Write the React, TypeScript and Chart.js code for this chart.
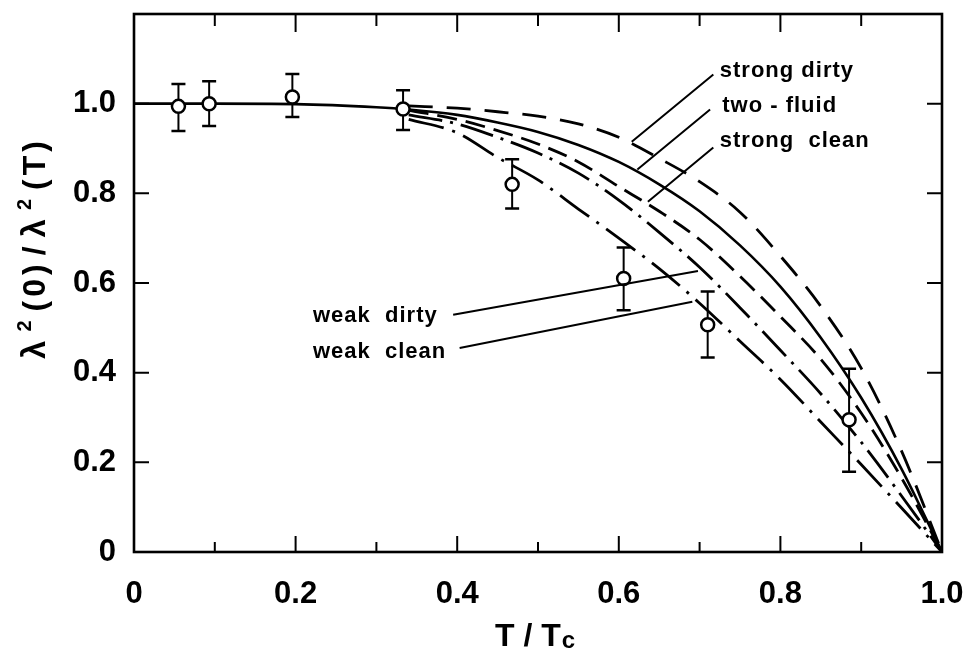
import React, { useEffect, useRef } from 'react';
import { Chart, registerables } from 'chart.js';

Chart.register(...registerables);

const FONT = '"Liberation Sans", Arial, "DejaVu Sans", sans-serif';

// axis ticks
const xTicks = [0, 0.2, 0.4, 0.6, 0.8, 1.0];
const xMinorTicks = [0.1, 0.3, 0.5, 0.7, 0.9];
const yTicks = [0, 0.2, 0.4, 0.6, 0.8, 1.0];

// measured points with error bars
const dataT = [0.055, 0.093, 0.196, 0.333, 0.468, 0.606, 0.71, 0.885];
const dataY = [0.994, 1.0, 1.015, 0.988, 0.82, 0.61, 0.507, 0.295];
const errHi = [1.044, 1.05, 1.066, 1.03, 0.876, 0.679, 0.581, 0.409];
const errLo = [0.939, 0.95, 0.97, 0.941, 0.766, 0.539, 0.434, 0.179];

// theory curves
const curveT = [0.34, 0.4, 0.45, 0.5, 0.55, 0.6, 0.65, 0.7, 0.75, 0.8, 0.85, 0.9, 0.95, 1.0];
const strongDirty = [0.995, 0.99, 0.982, 0.972, 0.955, 0.925, 0.878, 0.826, 0.758, 0.66, 0.548, 0.41, 0.225, 0];
const strongClean = [0.985, 0.965, 0.94, 0.91, 0.87, 0.815, 0.76, 0.697, 0.615, 0.525, 0.43, 0.31, 0.165, 0];
const weakDirty = [0.975, 0.955, 0.925, 0.89, 0.845, 0.785, 0.713, 0.635, 0.545, 0.45, 0.353, 0.245, 0.125, 0];
const weakClean = [0.965, 0.935, 0.88, 0.83, 0.765, 0.7, 0.632, 0.555, 0.47, 0.385, 0.29, 0.195, 0.098, 0];
const twoFluidT = [0, 0.1, 0.2, 0.3, 0.34, 0.4, 0.45, 0.5, 0.55, 0.6, 0.65, 0.7, 0.75, 0.8, 0.85, 0.9, 0.95, 1.0];
const twoFluid = [1.0, 1.0, 0.999, 0.992, 0.987, 0.975, 0.958, 0.937, 0.908, 0.87, 0.82, 0.76, 0.684, 0.592, 0.478, 0.344, 0.185, 0];

// curve labels (data coordinates) and their leader lines
const labelTexts = ['strong dirty', 'two - fluid', 'strong  clean', 'weak  dirty', 'weak  clean'];
const labelX = [0.725, 0.728, 0.725, 0.2215, 0.2215];
const labelY = [1.06, 0.982, 0.904, 0.513, 0.433];
const leaderFromX = [0.717, 0.713, 0.717, 0.395, 0.403];
const leaderFromY = [1.065, 0.987, 0.902, 0.529, 0.455];
const leaderToX = [0.616, 0.623, 0.636, 0.698, 0.691];
const leaderToY = [0.915, 0.853, 0.781, 0.627, 0.558];

const pts = (xs: number[], ys: number[]) => xs.map((x, i) => ({ x, y: ys[i] }));

const fmt = (v: number) => (v === 0 ? '0' : Number(v).toFixed(1));

// draw runs of text with varying size / vertical offset, starting at x (left) along baseline
function drawRuns(ctx: any, runs: { t: string; size: number; dy: number }[], x: number, y: number, spacing: number) {
  let cx = x;
  for (const r of runs) {
    ctx.font = `bold ${r.size}px ${FONT}`;
    ctx.fillText(r.t, cx, y + r.dy);
    cx += ctx.measureText(r.t).width + spacing;
  }
  return cx - x - spacing;
}
function measureRuns(ctx: any, runs: { t: string; size: number; dy: number }[], spacing: number) {
  let w = 0;
  for (const r of runs) {
    ctx.font = `bold ${r.size}px ${FONT}`;
    w += ctx.measureText(r.t).width + spacing;
  }
  return w - spacing;
}

const yTitleRuns = [
  { t: 'λ', size: 33, dy: 0 },
  { t: '2', size: 20, dy: -14 },
  { t: '(0)', size: 32, dy: 0 },
  { t: '/', size: 32, dy: 0 },
  { t: 'λ', size: 33, dy: 0 },
  { t: '2', size: 20, dy: -14 },
  { t: '(T)', size: 32, dy: 0 },
];
const xTitleRuns = [
  { t: 'T / T', size: 32, dy: 0 },
  { t: 'c', size: 24, dy: 2 },
];

const decorPlugin = {
  id: 'decor',
  beforeDatasetsDraw(chart: any) {
    const { ctx, scales } = chart;
    const xs = scales.x, ys = scales.y;
    ctx.save();
    ctx.strokeStyle = '#000';
    for (let i = 0; i < dataT.length; i++) {
      const px = xs.getPixelForValue(dataT[i]);
      const ph = ys.getPixelForValue(errHi[i]);
      const pl = ys.getPixelForValue(errLo[i]);
      ctx.lineWidth = 2;
      ctx.beginPath();
      ctx.moveTo(px, ph);
      ctx.lineTo(px, pl);
      ctx.stroke();
      ctx.lineWidth = 2.5;
      ctx.beginPath();
      ctx.moveTo(px - 7, ph);
      ctx.lineTo(px + 7, ph);
      ctx.moveTo(px - 7, pl);
      ctx.lineTo(px + 7, pl);
      ctx.stroke();
    }
    ctx.restore();
  },
  afterDraw(chart: any) {
    const { ctx, scales, chartArea } = chart;
    const xs = scales.x, ys = scales.y;
    const { left, right, top, bottom } = chartArea;
    ctx.save();
    ctx.strokeStyle = '#000';
    ctx.lineCap = 'butt';
    // frame
    ctx.lineWidth = 2.6;
    ctx.strokeRect(left, top, right - left, bottom - top);
    // ticks (inward)
    ctx.lineWidth = 2;
    ctx.beginPath();
    xTicks.forEach((v) => {
      const p = xs.getPixelForValue(v);
      ctx.moveTo(p, bottom);
      ctx.lineTo(p, bottom - 16);
      ctx.moveTo(p, top);
      ctx.lineTo(p, top + 18);
    });
    xMinorTicks.forEach((v) => {
      const p = xs.getPixelForValue(v);
      ctx.moveTo(p, bottom);
      ctx.lineTo(p, bottom - 10);
      ctx.moveTo(p, top);
      ctx.lineTo(p, top + 12);
    });
    yTicks.forEach((v) => {
      const p = ys.getPixelForValue(v);
      ctx.moveTo(left, p);
      ctx.lineTo(left + 15, p);
      ctx.moveTo(right, p);
      ctx.lineTo(right - 15, p);
    });
    ctx.stroke();

    // curve labels and leaders
    ctx.lineWidth = 2;
    ctx.beginPath();
    for (let i = 0; i < labelTexts.length; i++) {
      ctx.moveTo(xs.getPixelForValue(leaderFromX[i]), ys.getPixelForValue(leaderFromY[i]));
      ctx.lineTo(xs.getPixelForValue(leaderToX[i]), ys.getPixelForValue(leaderToY[i]));
    }
    ctx.stroke();
    ctx.fillStyle = '#000';
    ctx.font = `bold 22px ${FONT}`;
    ctx.textAlign = 'left';
    ctx.textBaseline = 'alphabetic';
    (ctx as any).letterSpacing = '1px';
    for (let i = 0; i < labelTexts.length; i++) {
      ctx.fillText(labelTexts[i], xs.getPixelForValue(labelX[i]), ys.getPixelForValue(labelY[i]));
    }

    // y axis title (rotated)
    (ctx as any).letterSpacing = '4px';
    ctx.save();
    ctx.translate(left - 89, top + (bottom - top) * 0.435);
    ctx.rotate(-Math.PI / 2);
    ctx.textAlign = 'left';
    ctx.textBaseline = 'alphabetic';
    const wy = measureRuns(ctx, yTitleRuns, 5);
    drawRuns(ctx, yTitleRuns, -wy / 2, 0, 5);
    ctx.restore();

    // x axis title
    (ctx as any).letterSpacing = '0px';
    const cx = (left + right) / 2;
    const by = bottom + 94;
    ctx.textAlign = 'left';
    drawRuns(ctx, xTitleRuns, cx - 43, by, 1);
    ctx.restore();
  },
};

export default function App() {
  const ref = useRef<HTMLCanvasElement | null>(null);
  useEffect(() => {
    document.body.style.margin = '0';
    const canvas = ref.current;
    if (!canvas) return;
    const curveStyle = (data: any[], dash: number[], width = 2.8) => ({
      type: 'line',
      data,
      borderColor: '#000',
      borderWidth: width,
      borderDash: dash,
      pointRadius: 0,
      fill: false,
      cubicInterpolationMode: 'monotone',
      order: 1,
    });
    const zeroPad = (s: any) => {
      s.paddingLeft = 0;
      s.paddingRight = 0;
      s.paddingTop = 0;
      s.paddingBottom = 0;
    };
    const chart = new Chart(canvas, {
      type: 'line',
      data: {
        datasets: [
          {
            type: 'line',
            data: pts(dataT, dataY),
            showLine: false,
            pointRadius: 6.5,
            pointBackgroundColor: '#fff',
            pointBorderColor: '#000',
            pointBorderWidth: 2.5,
            order: 0,
          } as any,
          curveStyle(pts(curveT, strongDirty), [24, 14]),
          curveStyle(pts(twoFluidT, twoFluid), [], 2.6),
          curveStyle(pts(curveT, strongClean), [20, 9]),
          curveStyle(pts(curveT, weakDirty), [34, 8, 3, 8]),
          curveStyle(pts(curveT, weakClean), [36, 9, 3, 9]),
        ] as any,
      },
      options: {
        responsive: false,
        maintainAspectRatio: false,
        animation: false,
        devicePixelRatio: 1,
        layout: { padding: { left: 0, right: 26, top: 14, bottom: 0 } },
        plugins: { legend: { display: false }, tooltip: { enabled: false } },
        scales: {
          x: {
            type: 'linear',
            min: 0,
            max: 1,
            position: 'bottom',
            grid: { display: false, drawTicks: false },
            border: { display: false },
            afterBuildTicks: (s: any) => {
              s.ticks = xTicks.map((v) => ({ value: v }));
            },
            afterFit: (s: any) => {
              s.height = 102;
              zeroPad(s);
            },
            ticks: {
              autoSkip: false,
              maxRotation: 0,
              padding: 24,
              color: '#000',
              font: { family: FONT, size: 31, weight: 'bold' },
              callback: (v: any) => fmt(Number(v)),
            },
          },
          y: {
            type: 'linear',
            min: 0,
            max: 1.2,
            grid: { display: false, drawTicks: false },
            border: { display: false },
            afterBuildTicks: (s: any) => {
              s.ticks = yTicks.map((v) => ({ value: v }));
            },
            afterFit: (s: any) => {
              s.width = 134;
              zeroPad(s);
            },
            ticks: {
              padding: 18,
              color: '#000',
              font: { family: FONT, size: 31, weight: 'bold' },
              callback: (v: any) => fmt(Number(v)),
            },
          },
        },
      } as any,
      plugins: [decorPlugin],
    });
    return () => chart.destroy();
  }, []);
  return (
    <div style={{ width: 968, height: 654, background: '#fff' }}>
      <canvas ref={ref} width={968} height={654} style={{ display: 'block' }} />
    </div>
  );
}
